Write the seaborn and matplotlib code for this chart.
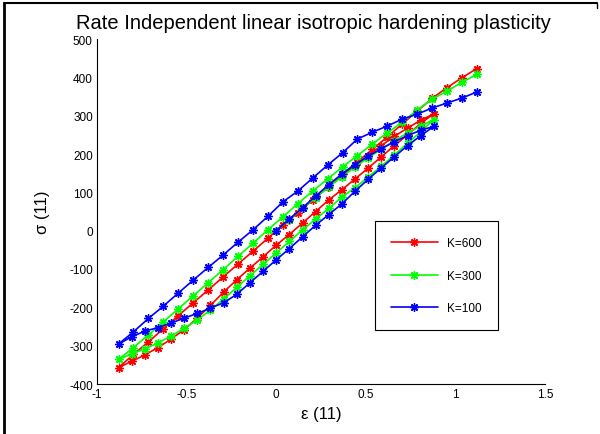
import numpy as np
import pandas as pd
import matplotlib
matplotlib.use("Agg")
import matplotlib.pyplot as plt
import seaborn as sns
from matplotlib.lines import Line2D
from matplotlib.ticker import FuncFormatter

# ---------------- data ----------------
# strain grids of the three branches: initial loading, unloading, reloading
eps_load = [0.0, 0.073, 0.147, 0.22, 0.293, 0.367, 0.44, 0.513, 0.587, 0.66, 0.733, 0.807, 0.88]
eps_unload = [0.88, 0.807, 0.733, 0.66, 0.587, 0.513, 0.44, 0.367, 0.293, 0.22, 0.147, 0.073, 0.0,
              -0.073, -0.147, -0.22, -0.293, -0.367, -0.44, -0.513, -0.587, -0.66, -0.733, -0.807, -0.88]
eps_reload = [-0.88, -0.797, -0.713, -0.63, -0.547, -0.463, -0.38, -0.297, -0.213, -0.13, -0.047,
              0.037, 0.12, 0.203, 0.287, 0.37, 0.453, 0.537, 0.62, 0.703, 0.787, 0.87, 0.953, 1.037, 1.12]

# K = 600
red_load = [0, 29, 58, 87, 115, 143, 170, 196, 222, 246, 268, 288, 305]
red_unload = [305, 280, 250, 222, 193, 163, 135, 107, 80, 50, 20, -10, -38,
              -68, -98, -128, -160, -195, -228, -258, -283, -305, -324, -341, -357]
red_reload = [-357, -323, -290, -256, -222, -188, -155, -121, -87, -54, -20,
              14, 47, 80, 113, 147, 180, 212, 245, 278, 312, 345, 373, 399, 423]

# K = 300
green_load = [0, 29, 58, 86, 114, 141, 166, 190, 213, 235, 255, 273, 290]
green_unload = [290, 258, 228, 198, 168, 140, 112, 88, 58, 30, 2, -28, -58,
                -88, -118, -148, -178, -207, -233, -255, -275, -293, -308, -322, -336]
green_reload = [-336, -305, -272, -238, -204, -170, -136, -102, -67, -33, 2,
                36, 70, 103, 135, 166, 196, 226, 255, 283, 315, 343, 364, 387, 408]

# K = 100
blue_load = [0, 30, 60, 90, 120, 148, 172, 194, 214, 232, 248, 262, 272]
blue_unload = [272, 248, 222, 193, 164, 134, 103, 70, 42, 14, -16, -47, -76,
               -106, -136, -166, -188, -202, -216, -228, -241, -253, -262, -277, -296]
blue_reload = [-296, -264, -229, -197, -163, -129, -96, -64, -30, 2, 37,
               75, 103, 137, 171, 203, 239, 257, 273, 291, 304, 320, 333, 346, 362]

labels = ["K=600", "K=300", "K=100"]
colors = ["#ff0000", "#00ff00", "#0000ff"]
series = [(red_load, red_unload, red_reload),
          (green_load, green_unload, green_reload),
          (blue_load, blue_unload, blue_reload)]

rows = []
for lab, (s0, s1, s2) in zip(labels, series):
    eps = eps_load + eps_unload[1:] + eps_reload[1:]
    sig = s0 + s1[1:] + s2[1:]
    for i, (e, s) in enumerate(zip(eps, sig)):
        rows.append({"K": lab, "step": i, "eps": e, "sigma": s})
df = pd.DataFrame(rows)

# ---------------- plot ----------------
sns.set_style("white")
plt.rcParams["font.family"] = ["Liberation Sans", "DejaVu Sans"]
plt.rcParams["axes.unicode_minus"] = False
plt.rcParams["text.color"] = "black"
plt.rcParams["axes.labelcolor"] = "black"

fig = plt.figure(figsize=(6, 4.35), dpi=100)
ax = fig.add_axes([97 / 600, 1 - 385 / 435, (545 - 97) / 600, (385 - 40) / 435])

for lab, col in zip(labels, colors):
    sub = df[df["K"] == lab]
    sns.lineplot(data=sub, x="eps", y="sigma", sort=False, estimator=None,
                 color=col, lw=1.2, marker=(8, 2, 0), markersize=6,
                 mec=col, mew=1.0, label=lab, ax=ax)

ax.set_xlim(-1, 1.5)
ax.set_ylim(-400, 500)
ax.set_xticks(np.arange(-1, 1.51, 0.5))
ax.set_yticks(np.arange(-400, 501, 100))
fmt = FuncFormatter(lambda v, p: "%g" % round(v, 6))
ax.xaxis.set_major_formatter(fmt)
ax.yaxis.set_major_formatter(fmt)
ax.tick_params(direction="in", length=4, width=0.8, labelsize=8.5, colors="black",
               top=False, right=False, pad=3)
for sp in ["top", "right"]:
    ax.spines[sp].set_visible(False)
for sp in ["left", "bottom"]:
    ax.spines[sp].set_color("black")
    ax.spines[sp].set_linewidth(0.8)

ax.set_title("Rate Independent linear isotropic hardening plasticity", fontsize=14.5, pad=8,
             x=0.483, color="black")
ax.set_xlabel("ε (11)", fontsize=12, labelpad=4, color="black")
ax.set_ylabel("σ (11)", fontsize=12, labelpad=14, color="black")

leg = ax.legend(loc="upper left", bbox_to_anchor=(0.62, 0.472), fontsize=8.5,
                handlelength=4.0, labelspacing=1.75, borderpad=1.35, handletextpad=0.8,
                fancybox=False, framealpha=1, edgecolor="black", borderaxespad=0)
leg.get_frame().set_linewidth(0.8)
for t in leg.get_texts():
    t.set_color("black")

# screenshot frame
fig.add_artist(Line2D([4 / 600, 597 / 600], [1 - 4 / 435, 1 - 4 / 435], transform=fig.transFigure, color="black", lw=1.5))
fig.add_artist(Line2D([4 / 600, 4 / 600], [0, 1 - 4 / 435], transform=fig.transFigure, color="black", lw=2))
fig.add_artist(Line2D([597 / 600, 597 / 600], [1 - 4 / 435, 1 - 9 / 435], transform=fig.transFigure, color="black", lw=1))

fig.savefig("out.png", dpi=100)
